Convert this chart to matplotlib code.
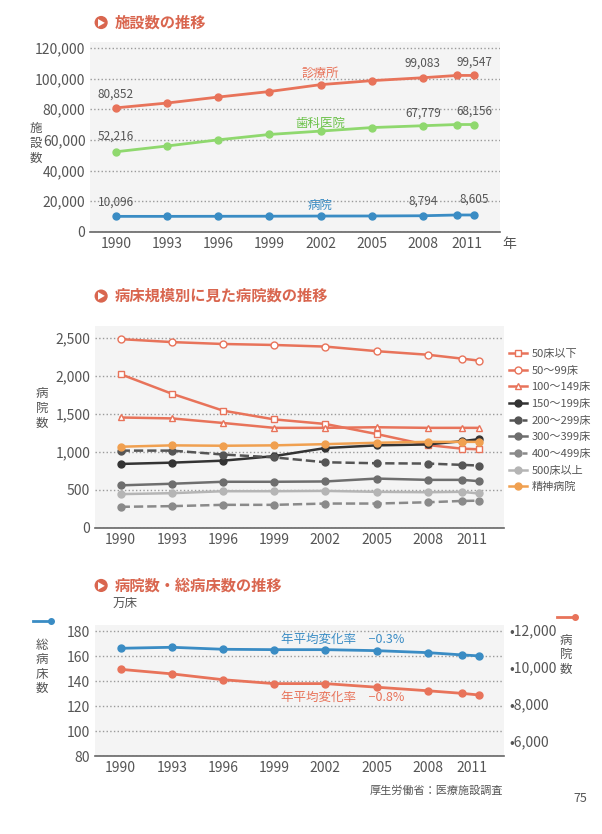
import matplotlib
matplotlib.use('Agg')
import matplotlib.pyplot as plt

plt.rcParams['font.family'] = ['Noto Sans CJK JP', 'DejaVu Sans']
plt.rcParams['font.size'] = 9

years = [1990, 1993, 1996, 1999, 2002, 2005, 2008, 2010, 2011]
tick_pos = [1990, 1993, 1996, 1999, 2002, 2005, 2008, 2010.6]
tick_lab = ['1990', '1993', '1996', '1999', '2002', '2005', '2008', '2011']

# panel 1
clinic = [80852, 84000, 87900, 91500, 96000, 98600, 100500, 102000, 102000]
dental = [52216, 56000, 60000, 63500, 65700, 68000, 69200, 70000, 70000]
hosp = [10096, 10100, 10150, 10200, 10300, 10350, 10500, 11000, 11000]

# panel 2
size_labels = ['50床以下', '50〜99床', '100〜149床', '150〜199床', '200〜299床',
               '300〜399床', '400〜499床', '500床以上', '精神病院']
size_vals = [
    [2018, 1762, 1540, 1425, 1365, 1233, 1088, 1041, 1032],
    [2479, 2440, 2415, 2402, 2381, 2321, 2274, 2223, 2197],
    [1450, 1438, 1378, 1314, 1314, 1322, 1314, 1314, 1314],
    [840, 857, 883, 943, 1049, 1084, 1096, 1139, 1165],
    [1015, 1015, 964, 926, 862, 849, 845, 828, 819],
    [559, 580, 606, 606, 610, 648, 631, 631, 614],
    [277, 286, 303, 303, 320, 320, 337, 354, 358],
    [444, 456, 482, 482, 486, 474, 469, 474, 452],
    [1066, 1084, 1079, 1084, 1100, 1118, 1130, 1130, 1130],
]

# panel 3
beds = [166.4, 167.2, 165.6, 165.3, 165.3, 164.5, 162.9, 161.1, 160.3]
hosp_count = [9877, 9632, 9316, 9105, 9105, 8912, 8719, 8579, 8491]

RED = '#e8735a'
GREEN = '#8fd86e'
BLUE = '#3a8cc4'
ORANGE = '#f0a050'
GRID = '#9a9a9a'
TXT = '#555555'
TITLE = '#d9664f'

fig = plt.figure(figsize=(6.02, 8.34), dpi=100)


def style(ax):
    ax.set_facecolor('#f4f4f4')
    for s in ['top', 'right', 'left']:
        ax.spines[s].set_visible(False)
    ax.spines['bottom'].set_color('#666666')
    ax.spines['bottom'].set_linewidth(1.2)
    ax.yaxis.grid(True, linestyle=':', color=GRID, linewidth=1)
    ax.set_axisbelow(True)
    ax.tick_params(length=0, colors=TXT, labelsize=10)
    ax.set_xlim(1988.5, 2012.5)
    ax.set_xticks(tick_pos)
    ax.set_xticklabels(tick_lab)


def title(y, s):
    fig.text(0.168, y, '▶', color='white', fontsize=6, ha='center', va='center',
             bbox=dict(boxstyle='circle,pad=0.25', fc=TITLE, ec='none'))
    fig.text(0.19, y, s, color=TITLE, fontsize=11, fontweight='bold', va='center')


# ---- panel 1
ax1 = fig.add_axes([0.15, 0.722, 0.68, 0.228])
style(ax1)
ax1.set_ylim(0, 124000)
ax1.set_yticks(range(0, 120001, 20000))
ax1.set_yticklabels([f'{v:,}' for v in range(0, 120001, 20000)])
for vals, c in [(clinic, RED), (dental, GREEN), (hosp, BLUE)]:
    ax1.plot(years, vals, color=c, lw=2, marker='o', ms=5)
for x, y, s in [(1990, 85500, '80,852'), (2008, 105500, '99,083'), (2011, 106500, '99,547'),
                (1990, 58500, '52,216'), (2008, 73000, '67,779'), (2011, 74500, '68,156'),
                (1990, 15000, '10,096'), (2008, 16000, '8,794'), (2011, 17000, '8,605')]:
    ax1.text(x, y, s, ha='center', va='bottom', fontsize=8.5, color=TXT)
ax1.text(2002, 101000, '診療所', color=RED, ha='center', fontsize=9)
ax1.text(2002, 68500, '歯科医院', color='#6cc24a', ha='center', fontsize=9)
ax1.text(2002, 15000, '病院', color=BLUE, ha='center', fontsize=9)
fig.text(0.06, 0.828, '施\n設\n数', color=TXT, fontsize=9, ha='center', va='center', linespacing=1.2)
fig.text(0.835, 0.708, '年', color=TXT, fontsize=10, va='center')
title(0.973, '施設数の推移')

# ---- panel 2
ax2 = fig.add_axes([0.158, 0.367, 0.68, 0.242])
style(ax2)
ax2.set_ylim(0, 2650)
ax2.set_yticks(range(0, 2501, 500))
ax2.set_yticklabels([f'{v:,}' for v in range(0, 2501, 500)])
styles = [
    dict(color=RED, marker='s', mfc='white', ls='-'),
    dict(color=RED, marker='o', mfc='white', ls='-'),
    dict(color=RED, marker='^', mfc='white', ls='-'),
    dict(color='#333333', marker='o', ls='-'),
    dict(color='#555555', marker='o', ls='--'),
    dict(color='#6e6e6e', marker='o', ls='-'),
    dict(color='#8a8a8a', marker='o', ls='--'),
    dict(color='#b5b5b5', marker='o', ls='-'),
    dict(color=ORANGE, marker='o', ls='-'),
]
for lab, vals, st in zip(size_labels, size_vals, styles):
    ax2.plot(years, vals, lw=1.8, ms=5, label=lab, **st)
ax2.legend(loc='upper left', bbox_to_anchor=(0.995, 0.92), frameon=False, fontsize=8,
           labelcolor=TXT, handlelength=1.6, handletextpad=0.4, labelspacing=0.6,
           borderaxespad=0.2)
fig.text(0.07, 0.51, '病\n院\n数', color=TXT, fontsize=9, ha='center', va='center', linespacing=1.2)
title(0.645, '病床規模別に見た病院数の推移')

# ---- panel 3
ax3 = fig.add_axes([0.158, 0.0935, 0.68, 0.157])
style(ax3)
ax3.set_ylim(80, 185)
ax3.set_yticks(range(80, 181, 20))
ax3.plot(years, beds, color=BLUE, lw=2, marker='o', ms=5)
ax4 = ax3.twinx()
for s in ['top', 'right', 'left', 'bottom']:
    ax4.spines[s].set_visible(False)
ax4.set_ylim(5190, 12270)
ax4.set_yticks(range(6000, 12001, 2000))
ax4.set_yticklabels(['•' + f'{v:,}' for v in range(6000, 12001, 2000)])
ax4.tick_params(length=0, colors=TXT, labelsize=10)
ax4.plot(years, hosp_count, color=RED, lw=2, marker='o', ms=5)
ax3.text(2003, 171, '年平均変化率　−0.3%', color=BLUE, ha='center', fontsize=9)
ax3.text(2003, 124, '年平均変化率　−0.8%', color=RED, ha='center', fontsize=9)
fig.text(0.208, 0.272, '万床', color=TXT, fontsize=9, ha='center')
fig.text(0.07, 0.20, '総\n病\n床\n数', color=TXT, fontsize=9, ha='center', va='center', linespacing=1.15)
fig.text(0.94, 0.215, '病\n院\n数', color=TXT, fontsize=9, ha='center', va='center', linespacing=1.15)
fig.lines.append(plt.Line2D([0.055, 0.085], [0.255, 0.255], color=BLUE, lw=2, marker='o', ms=4,
                            markevery=[1], transform=fig.transFigure))
fig.lines.append(plt.Line2D([0.925, 0.955], [0.26, 0.26], color=RED, lw=2, marker='o', ms=4,
                            markevery=[1], transform=fig.transFigure))
title(0.298, '病院数・総病床数の推移')

fig.text(0.835, 0.048, '厚生労働省：医療施設調査', color=TXT, fontsize=8, ha='right')
fig.text(0.975, 0.038, '75', color=TXT, fontsize=9, ha='right')

fig.savefig('out.png', dpi=100)
